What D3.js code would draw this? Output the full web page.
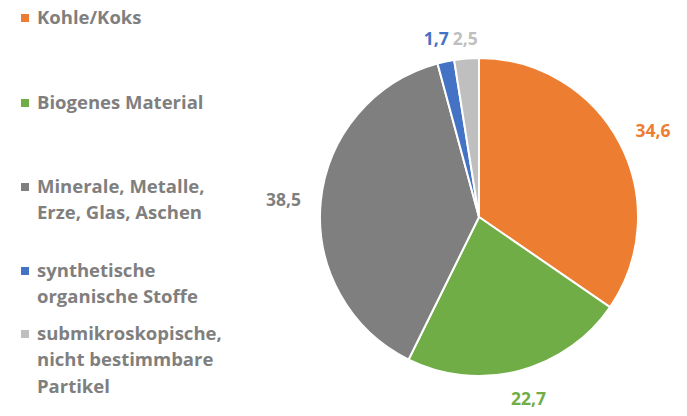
<!DOCTYPE html>
<html><head><meta charset="utf-8">
<script src="https://cdn.jsdelivr.net/npm/d3@7"></script>
<style>
html,body{margin:0;padding:0;background:#fff;}
svg{display:block;font-family:"Open Sans",sans-serif;font-weight:700;}
</style></head>
<body><svg id="c" width="687" height="416"></svg>
<script>
const categories = ["Kohle/Koks","Biogenes Material","Minerale, Metalle, Erze, Glas, Aschen","synthetische organische Stoffe","submikroskopische, nicht bestimmbare Partikel"];
const legendLines = [["Kohle/Koks"],["Biogenes Material"],["Minerale, Metalle,","Erze, Glas, Aschen"],["synthetische","organische Stoffe"],["submikroskopische,","nicht bestimmbare","Partikel"]];
const values = [34.6, 22.7, 38.5, 1.7, 2.5];
const valueLabels = ["34,6","22,7","38,5","1,7","2,5"];
const colors = ["#ED7D31","#70AD47","#7F7F7F","#4472C4","#BFBFBF"];

const svg = d3.select("#c");
const cx = 479, cy = 217, r = 159;
const pie = d3.pie().sort(null).value(d => d)(values);
const arc = d3.arc().innerRadius(0).outerRadius(r);
const g = svg.append("g").attr("transform", `translate(${cx},${cy})`);
g.selectAll("path").data(pie).join("path")
  .attr("d", arc)
  .attr("fill", (d,i) => colors[i])
  .attr("stroke", "#fff").attr("stroke-width", 2).attr("stroke-linejoin","round");

// value labels: placed outside, box pushed away from the pie
const fs = 17.5;
const labels = g.selectAll("text.v").data(pie).join("text")
  .attr("class","v")
  .attr("font-size", fs)
  .attr("dominant-baseline","central")
  .attr("fill", (d,i) => colors[i])
  .text((d,i) => valueLabels[i]);

labels.each(function(d, i) {
  const t = d3.select(this);
  const w = this.getBBox().width, h = fs * 0.9;
  const small = d.value < 5;
  if (!small) {
    const a = (d.startAngle + d.endAngle) / 2;
    const lr = r + 20;
    const x = Math.sin(a) * lr + Math.sin(a) * w / 2;
    const y = -Math.cos(a) * lr - Math.cos(a) * h / 2;
    t.attr("text-anchor","middle").attr("x", x).attr("y", y);
  } else {
    // small neighbouring slices: labels side by side around their shared boundary
    const prevSmall = i > 0 && pie[i-1].value < 5;
    const nextSmall = i < pie.length - 1 && pie[i+1].value < 5;
    const lr = r + 22;
    if (nextSmall) {
      const a = d.endAngle;
      t.attr("text-anchor","end").attr("x", Math.sin(a)*lr - 2).attr("y", -Math.cos(a)*lr);
    } else if (prevSmall) {
      const a = d.startAngle;
      t.attr("text-anchor","start").attr("x", Math.sin(a)*lr + 2).attr("y", -Math.cos(a)*lr);
    } else {
      const a = (d.startAngle + d.endAngle) / 2;
      t.attr("text-anchor","middle").attr("x", Math.sin(a)*lr).attr("y", -Math.cos(a)*lr);
    }
  }
});

// legend
const firstBaselines = [24, 109, 193, 277, 340];
const lineH = 26.3;
const leg = svg.append("g");
legendLines.forEach((lines, i) => {
  const y0 = firstBaselines[i];
  leg.append("rect").attr("x",21).attr("y",y0-10).attr("width",8).attr("height",8).attr("fill",colors[i]);
  const t = leg.append("text").attr("x",37).attr("y",y0).attr("font-size",18.5).attr("fill","#7F7F7F");
  lines.forEach((ln, j) => {
    t.append("tspan").attr("x",37).attr("y", y0 + j*lineH).text(ln);
  });
});
</script></body></html>
